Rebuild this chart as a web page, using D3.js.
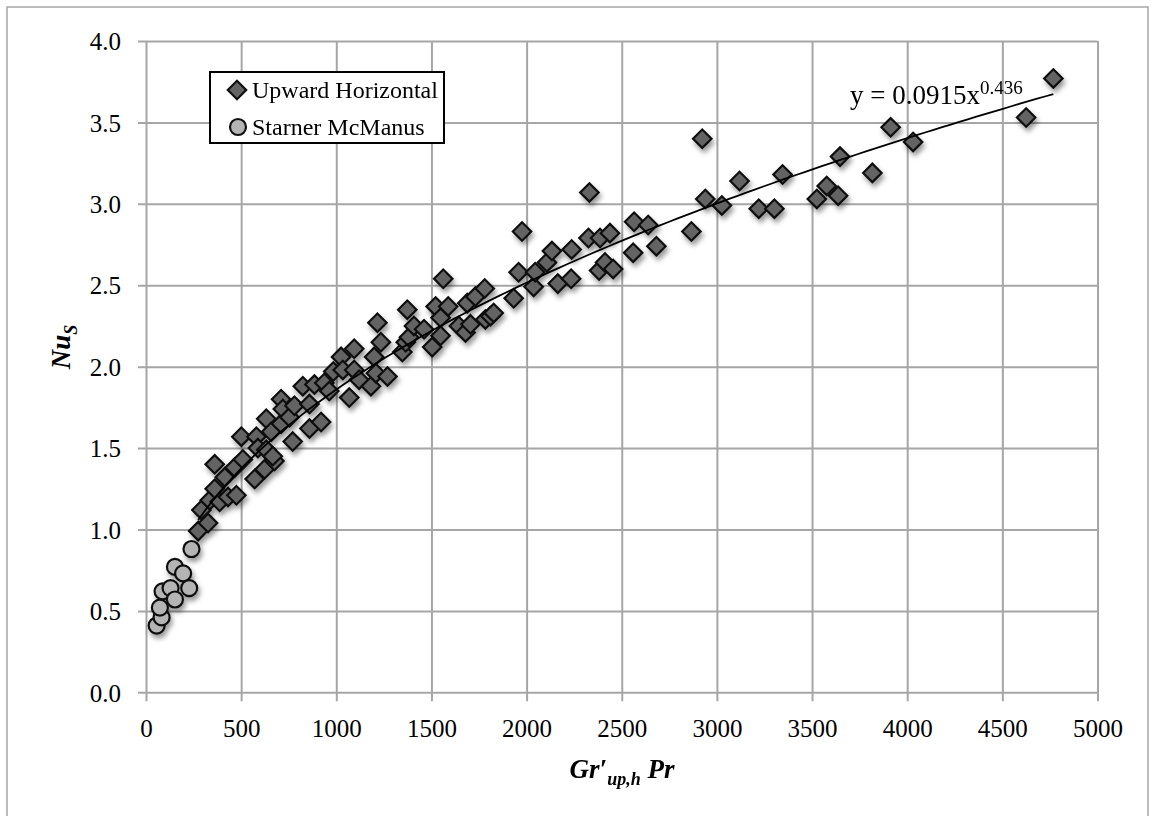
<!DOCTYPE html>
<html>
<head>
<meta charset="utf-8">
<script src="https://cdn.jsdelivr.net/npm/d3@7"></script>
<style>
  body { margin: 0; background: #fff; }
  text { font-family: "Liberation Serif", "Times New Roman", serif; fill: #000; }
</style>
</head>
<body>
<svg id="chart" width="1155" height="816"></svg>
<script>
// Upward Horizontal: [Gr'Pr, Nu_S]
const upwardHorizontal = [
  [274,0.99],[326,1.04],[291,1.12],[335,1.18],[387,1.17],[431,1.20],[475,1.21],[361,1.25],[361,1.40],
  [414,1.32],[466,1.38],[509,1.43],[571,1.31],[623,1.37],[675,1.42],[501,1.57],[580,1.57],[588,1.50],
  [632,1.49],[666,1.45],[632,1.68],[658,1.60],[710,1.65],[710,1.80],[719,1.74],[754,1.69],[771,1.54],
  [780,1.76],[824,1.88],[859,1.77],[859,1.62],[885,1.89],[920,1.66],[937,1.90],[963,1.85],[984,1.97],
  [1025,2.06],[1034,1.98],[1068,1.81],[1094,2.11],[1094,1.98],[1120,1.92],[1182,1.88],[1199,2.06],
  [1208,1.96],[1216,2.27],[1234,2.15],[1269,1.94],[1347,2.09],[1365,2.15],[1373,2.35],[1382,2.18],
  [1408,2.25],[1461,2.23],[1504,2.12],[1522,2.37],[1548,2.30],[1548,2.19],[1562,2.54],[1588,2.37],
  [1644,2.25],[1679,2.21],[1688,2.39],[1705,2.26],[1731,2.43],[1780,2.48],[1783,2.29],[1810,2.31],
  [1827,2.33],[1932,2.42],[1958,2.58],[1976,2.83],[2037,2.49],[2045,2.58],[2107,2.64],[2133,2.71],
  [2164,2.51],[2234,2.54],[2237,2.72],[2325,2.79],[2330,3.07],[2381,2.59],[2386,2.79],[2412,2.64],
  [2438,2.82],[2455,2.60],[2560,2.70],[2565,2.89],[2639,2.87],[2682,2.74],[2866,2.83],[2923,3.40],
  [2939,3.03],[3026,2.99],[3119,3.14],[3220,2.97],[3302,2.97],[3345,3.18],[3525,3.03],[3577,3.11],
  [3637,3.05],[3647,3.29],[3817,3.19],[3913,3.47],[4031,3.38],[4625,3.53],[4768,3.77]
];
// Starner McManus
const starnerMcManus = [
  [56,0.41],[82,0.46],[73,0.52],[87,0.62],[129,0.64],[152,0.57],[152,0.77],[195,0.73],[227,0.64],[239,0.88]
];
const xTicks = [0, 500, 1000, 1500, 2000, 2500, 3000, 3500, 4000, 4500, 5000];
const yTicks = [0, 0.5, 1.0, 1.5, 2.0, 2.5, 3.0, 3.5, 4.0];
const fitA = 0.0915, fitB = 0.436;

const svg = d3.select('#chart');
const plotL = 146, plotR = 1097.5, plotT = 41, plotB = 692.3;

const x = d3.scaleLinear().domain([0, 5000]).range([plotL, plotR]);
const y = d3.scaleLinear().domain([0, 4]).range([plotB, plotT]);

// outer frame
svg.append('rect')
  .attr('x', 7).attr('y', 7).attr('width', 1141).attr('height', 830)
  .attr('fill', 'none').attr('stroke', '#a6a6a6').attr('stroke-width', 1.5);

const defs = svg.append('defs');
defs.append('filter').attr('id', 'shadow')
  .attr('x', '-50%').attr('y', '-50%').attr('width', '200%').attr('height', '200%')
  .append('feDropShadow')
  .attr('dx', 2).attr('dy', 4).attr('stdDeviation', 2.5)
  .attr('flood-color', '#000').attr('flood-opacity', 0.4);

// gridlines + axes
const gridColor = '#a6a6a6';
const yAxis = d3.axisLeft(y).tickValues(yTicks).tickFormat(d3.format('.1f')).tickSize(0);
svg.append('g')
  .attr('transform', `translate(${plotL},0)`)
  .call(yAxis)
  .call(g => g.select('.domain').remove())
  .call(g => g.selectAll('.tick line').attr('stroke', gridColor).attr('stroke-width', 2)
    .attr('x1', -8).attr('x2', plotR - plotL))
  .call(g => g.selectAll('.tick text').attr('x', -25).attr('dy', '0.35em')
    .style('font-size', '25px').style('font-family', '"Liberation Serif", serif').attr('fill', '#000'));

const xAxis = d3.axisBottom(x).tickValues(xTicks).tickFormat(d3.format('d')).tickSize(0);
svg.append('g')
  .attr('transform', `translate(0,${plotB})`)
  .call(xAxis)
  .call(g => g.select('.domain').remove())
  .call(g => g.selectAll('.tick line').attr('stroke', gridColor).attr('stroke-width', 2)
    .attr('y1', 9).attr('y2', -(plotB - plotT)))
  .call(g => g.selectAll('.tick text').attr('y', 45).attr('dy', 0)
    .style('font-size', '25px').style('font-family', '"Liberation Serif", serif').attr('fill', '#000'));

// markers
const diamond = d3.symbol().type(d3.symbolSquare).size(170);
svg.append('g').attr('filter', 'url(#shadow)')
  .selectAll('path')
  .data(upwardHorizontal)
  .join('path')
  .attr('d', diamond)
  .attr('transform', d => `translate(${x(d[0])},${y(d[1])}) rotate(45)`)
  .attr('fill', '#646464').attr('stroke', '#111').attr('stroke-width', 2.2);

svg.append('g').attr('filter', 'url(#shadow)')
  .selectAll('circle')
  .data(starnerMcManus)
  .join('circle')
  .attr('cx', d => x(d[0])).attr('cy', d => y(d[1])).attr('r', 8)
  .attr('fill', '#b4b4b4').attr('stroke', '#111').attr('stroke-width', 2.2);

// power trendline
const xMin = d3.min(upwardHorizontal, d => d[0]);
const xMax = d3.max(upwardHorizontal, d => d[0]);
const fit = d3.range(0, 101).map(i => {
  const xv = xMin + (xMax - xMin) * i / 100;
  return [xv, fitA * Math.pow(xv, fitB)];
});
svg.append('path')
  .datum(fit)
  .attr('d', d3.line().x(d => x(d[0])).y(d => y(d[1])))
  .attr('fill', 'none').attr('stroke', '#000').attr('stroke-width', 1.8);

const eq = svg.append('text').attr('x', 850).attr('y', 104).style('font-size', '27px');
eq.append('tspan').text('y = 0.0915x');
eq.append('tspan').attr('dy', -10).style('font-size', '19px').text('0.436');

// legend
const legend = svg.append('g');
legend.append('rect')
  .attr('x', 210).attr('y', 72).attr('width', 234).attr('height', 71)
  .attr('fill', '#fff').attr('stroke', '#000').attr('stroke-width', 2);
legend.append('path')
  .attr('d', diamond)
  .attr('transform', 'translate(237,90) rotate(45)')
  .attr('fill', '#646464').attr('stroke', '#111').attr('stroke-width', 2.2);
legend.append('circle')
  .attr('cx', 238).attr('cy', 127).attr('r', 8)
  .attr('fill', '#b4b4b4').attr('stroke', '#111').attr('stroke-width', 2.2);
legend.append('text').attr('x', 252).attr('y', 98).style('font-size', '24px').text('Upward Horizontal');
legend.append('text').attr('x', 252).attr('y', 135).style('font-size', '24px').text('Starner McManus');

// axis titles
const xt = svg.append('text').attr('x', 622).attr('y', 778).attr('text-anchor', 'middle')
  .style('font-size', '27px').style('font-weight', 'bold').style('font-style', 'italic');
xt.append('tspan').text('Gr′');
xt.append('tspan').attr('dy', 7).style('font-size', '18px').text('up,h');
xt.append('tspan').attr('dy', -7).text(' Pr');

const yt = svg.append('text').attr('transform', 'translate(70,347) rotate(-90)').attr('text-anchor', 'middle')
  .style('font-size', '27px').style('font-weight', 'bold').style('font-style', 'italic');
yt.append('tspan').text('Nu');
yt.append('tspan').attr('dy', 7).style('font-size', '18px').text('S');
</script>
</body>
</html>
